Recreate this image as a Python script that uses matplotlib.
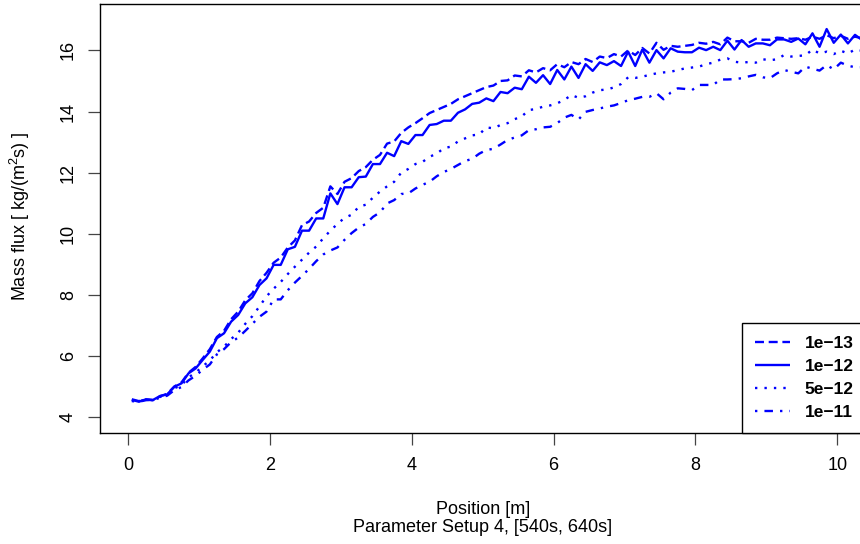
import numpy as np
import matplotlib
matplotlib.use("Agg")
import matplotlib.pyplot as plt

plt.rcParams['font.family'] = ['Liberation Sans', 'DejaVu Sans']
plt.rcParams['mathtext.fontset'] = 'custom'
plt.rcParams['mathtext.rm'] = 'Liberation Sans'

# positions along the channel [m], one sample every 0.1 m
position = np.round(np.arange(0.05, 10.5, 0.1), 2)

labels = ['1e\u221213', '1e\u221212', '5e\u221212', '1e\u221211']

flux_1e13 = [4.58, 4.52, 4.57, 4.55, 4.68, 4.76, 5.00, 5.13, 5.45, 5.64,
             5.92, 6.22, 6.62, 6.82, 7.20, 7.45, 7.82, 8.05, 8.45, 8.72,
             9.05, 9.22, 9.55, 9.78, 10.28, 10.40, 10.68, 10.85, 11.55, 11.30,
             11.70, 11.82, 12.05, 12.18, 12.42, 12.58, 12.95, 13.02, 13.30, 13.48,
             13.62, 13.78, 13.95, 14.05, 14.15, 14.25, 14.40, 14.50, 14.60, 14.70,
             14.80, 14.85, 15.00, 15.02, 15.18, 15.15, 15.35, 15.28, 15.42, 15.35,
             15.55, 15.45, 15.62, 15.55, 15.72, 15.62, 15.80, 15.75, 15.88, 15.80,
             16.00, 15.85, 16.08, 15.90, 16.25, 16.02, 16.15, 16.12, 16.15, 16.18,
             16.25, 16.22, 16.28, 16.20, 16.42, 16.30, 16.30, 16.25, 16.38, 16.35,
             16.35, 16.42, 16.40, 16.38, 16.40, 16.35, 16.45, 16.38, 16.50, 16.40,
             16.48, 16.38, 16.45, 16.40, 16.42]

flux_1e12 = [4.56, 4.50, 4.58, 4.56, 4.69, 4.74, 4.99, 5.10, 5.43, 5.59,
             5.87, 6.14, 6.58, 6.74, 7.12, 7.34, 7.72, 7.92, 8.32, 8.54,
             8.98, 8.98, 9.49, 9.57, 10.10, 10.10, 10.50, 10.50, 11.32, 10.97,
             11.52, 11.52, 11.85, 11.87, 12.28, 12.28, 12.65, 12.54, 13.03, 12.94,
             13.23, 13.23, 13.56, 13.59, 13.70, 13.70, 13.96, 14.07, 14.25, 14.29,
             14.43, 14.34, 14.64, 14.60, 14.78, 14.73, 15.14, 14.94, 15.19, 14.90,
             15.36, 15.05, 15.47, 15.10, 15.55, 15.33, 15.61, 15.52, 15.65, 15.49,
             15.96, 15.49, 16.03, 15.60, 16.01, 15.74, 16.07, 15.96, 15.94, 15.94,
             16.09, 16.01, 16.12, 16.01, 16.32, 16.03, 16.34, 16.12, 16.23, 16.23,
             16.17, 16.36, 16.36, 16.28, 16.39, 16.20, 16.56, 16.12, 16.70, 16.25,
             16.52, 16.23, 16.51, 16.34, 16.40]

flux_5e12 = [4.55, 4.52, 4.56, 4.55, 4.66, 4.74, 4.94, 5.04, 5.30, 5.45,
             5.66, 5.85, 6.12, 6.30, 6.55, 6.76, 7.05, 7.30, 7.62, 7.95,
             8.20, 8.42, 8.68, 8.92, 9.15, 9.38, 9.58, 9.85, 10.10, 10.32,
             10.52, 10.62, 10.88, 10.95, 11.18, 11.38, 11.55, 11.70, 12.00, 12.12,
             12.28, 12.35, 12.52, 12.62, 12.80, 12.85, 13.02, 13.12, 13.22, 13.25,
             13.48, 13.45, 13.56, 13.62, 13.75, 13.84, 14.05, 14.08, 14.16, 14.20,
             14.27, 14.38, 14.54, 14.45, 14.50, 14.62, 14.70, 14.72, 14.79, 14.90,
             15.12, 15.10, 15.14, 15.20, 15.25, 15.28, 15.30, 15.36, 15.41, 15.44,
             15.47, 15.55, 15.60, 15.70, 15.74, 15.63, 15.60, 15.62, 15.60, 15.71,
             15.68, 15.71, 15.85, 15.80, 15.82, 15.84, 16.03, 15.90, 15.96, 15.88,
             15.99, 15.90, 16.03, 15.99, 16.00]

flux_1e11 = [4.52, 4.50, 4.55, 4.56, 4.63, 4.70, 4.88, 4.98, 5.20, 5.35,
             5.55, 5.72, 6.05, 6.22, 6.45, 6.60, 6.82, 7.05, 7.28, 7.45,
             7.85, 7.85, 8.15, 8.40, 8.62, 8.85, 9.10, 9.32, 9.45, 9.55,
             9.80, 10.02, 10.20, 10.32, 10.55, 10.70, 10.99, 11.10, 11.30, 11.32,
             11.48, 11.60, 11.70, 11.88, 12.02, 12.12, 12.25, 12.38, 12.45, 12.62,
             12.74, 12.78, 12.92, 13.07, 13.15, 13.22, 13.39, 13.42, 13.48, 13.50,
             13.62, 13.80, 13.89, 13.74, 13.99, 14.05, 14.10, 14.16, 14.20, 14.28,
             14.37, 14.42, 14.48, 14.48, 14.60, 14.40, 14.62, 14.76, 14.74, 14.70,
             14.87, 14.87, 14.87, 15.05, 15.05, 15.06, 15.09, 15.15, 15.20, 15.12,
             15.09, 15.25, 15.36, 15.30, 15.25, 15.47, 15.40, 15.34, 15.52, 15.38,
             15.60, 15.50, 15.45, 15.45, 15.45]

series = [flux_1e13, flux_1e12, flux_5e12, flux_1e11]
# dash patterns in units of line width (R lty 2, 1, 3, 4)
dash_styles = [(3.8, 2.0), None, (1.0, 3.0), (1.0, 3.0, 3.6, 3.0)]

W, H = 860, 544
fig = plt.figure(figsize=(W / 100, H / 100), dpi=100)
# axes box in pixels: left 100, right 866, top 4, bottom 433
ax = fig.add_axes([100 / W, 1 - 433 / H, 766 / W, 429 / H])

for vals, lab, ds in zip(series, labels, dash_styles):
    line, = ax.plot(position, vals, color='#0000FF', lw=1.7, label=lab,
                    solid_capstyle='butt', dash_capstyle='butt')
    if ds is not None:
        line.set_dashes(ds)

ax.set_xlim(-0.399, 10.405)
ax.set_ylim(3.476, 17.52)
ax.set_xticks([0, 2, 4, 6, 8, 10])
ax.set_yticks([4, 6, 8, 10, 12, 14, 16])

for s in ax.spines.values():
    s.set_linewidth(1.0)
    s.set_color('black')

ax.tick_params(direction='out', length=8.5, width=0.9, color='#444444',
               labelsize=13, pad=8)
ax.tick_params(axis='x', pad=9)
for t in ax.get_yticklabels():
    t.set_rotation(90)
    t.set_va('center')

fig.text(20 / W, 1 - 216 / H, r'Mass flux [ kg/(m$^2$s) ]', rotation=90,
         ha='center', va='center', fontsize=13)
fig.text(483 / W, 1 - 510 / H, 'Position [m]', ha='center', va='center',
         fontsize=13)
fig.text(483 / W, 1 - 527 / H, 'Parameter Setup 4, [540s, 640s]',
         ha='center', va='center', fontsize=13)

leg = ax.legend(loc='lower left', bbox_to_anchor=(742 / W, 1 - 433 / H),
                bbox_transform=fig.transFigure, borderaxespad=0,
                fancybox=False, framealpha=1, edgecolor='black',
                prop={'weight': 'bold', 'size': 12.5},
                handlelength=2.0, handletextpad=0.85, borderpad=0.75,
                labelspacing=0.45)
leg.get_frame().set_linewidth(1.0)

fig.savefig('out.png', dpi=100)
